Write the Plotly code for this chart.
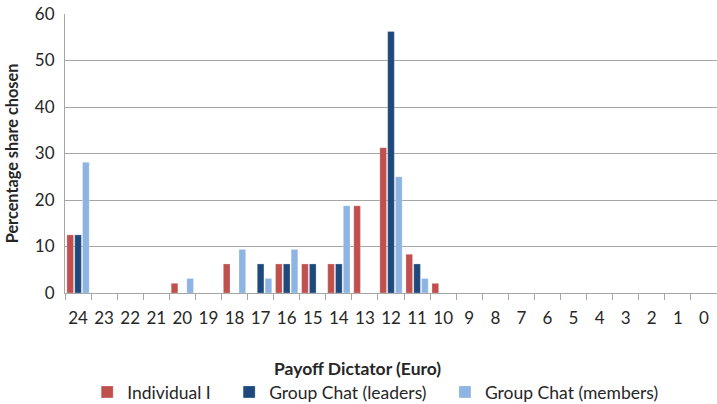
import plotly.graph_objects as go

# Paleta tipo Excel
COLORES = {
    "individual": "#C0504D",
    "lideres":    "#1F497D",
    "miembros":   "#8DB4E2",
}

pagos = [str(v) for v in range(24, -1, -1)]

# porcentaje de elecciones por pago del dictador (24 ... 0)
individual = [12.5, 0, 0, 0, 2.08, 0, 6.25, 0, 6.25, 6.25, 6.25, 18.75, 31.25, 8.33, 2.08,
              0, 0, 0, 0, 0, 0, 0, 0, 0, 0]
lideres    = [12.5, 0, 0, 0, 0, 0, 0, 6.25, 6.25, 6.25, 6.25, 0, 56.25, 6.25, 0,
              0, 0, 0, 0, 0, 0, 0, 0, 0, 0]
miembros   = [28.125, 0, 0, 0, 3.125, 0, 9.375, 3.125, 9.375, 0, 18.75, 0, 25.0, 3.125, 0,
              0, 0, 0, 0, 0, 0, 0, 0, 0, 0]

FUENTE = "Lato, 'Open Sans', sans-serif"
GRIS = "#A6A6A6"
NB = "\u00a0" * 3   # espacios para separar las entradas de la leyenda

fig = go.Figure()

for nombre, valores, color in [
    ("Individual I" + NB, individual, COLORES["individual"]),
    ("Group Chat (leaders)" + NB, lideres, COLORES["lideres"]),
    ("Group Chat (members)", miembros, COLORES["miembros"]),
]:
    fig.add_trace(go.Bar(
        name=nombre,
        x=pagos,
        y=valores,
        marker_color=color,
        marker_line=dict(color="rgba(255,255,255,0.5)", width=0.5),
    ))

# título del eje x centrado en la figura (no en el área de trazado)
fig.add_annotation(
    text="<b>Payoff Dictator (Euro)</b>",
    xref="paper", yref="paper",
    x=0.449, y=-0.272,
    xanchor="center", yanchor="middle",
    showarrow=False,
    font=dict(size=17.5),
)

fig.update_layout(
    barmode="group",
    bargap=0.1,
    bargroupgap=0.15,
    width=717,
    height=404,
    margin=dict(l=65, r=0, t=14, b=111, autoexpand=False),
    plot_bgcolor="white",
    paper_bgcolor="white",
    font=dict(family=FUENTE, size=17, color="#262626"),
    legend=dict(
        orientation="h",
        x=0.034, xanchor="left",
        y=-0.355, yanchor="middle",
        font=dict(size=17.5),
        itemwidth=30,
        traceorder="normal",
    ),
    xaxis=dict(
        type="category",
        automargin=False,
        tickangle=0,
        showline=True,
        linecolor=GRIS,
        linewidth=1,
        ticks="outside",
        tickson="boundaries",
        ticklen=6,
        tickcolor=GRIS,
        ticklabelstandoff=10,
    ),
    yaxis=dict(
        range=[0, 60],
        dtick=10,
        automargin=False,
        showline=True,
        linecolor=GRIS,
        gridcolor=GRIS,
        zeroline=False,
        ticks="",
        ticklabelstandoff=6,
        title=dict(
            text="<b>Percentage share chosen</b>",
            font=dict(size=16.3),
            standoff=12,
        ),
    ),
)

# sin el margen por defecto del <body>
fig.write_html(
    "out.html",
    config={"displayModeBar": False},
    post_script="document.body.style.margin='0';",
)
